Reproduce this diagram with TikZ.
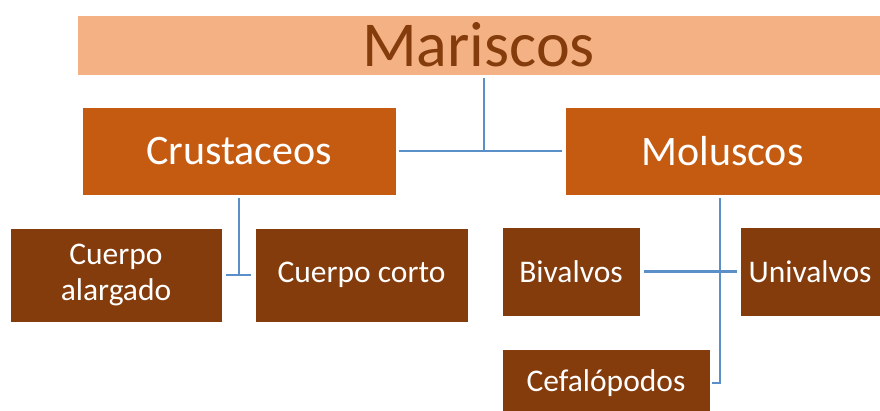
\documentclass[tikz,border=0pt]{standalone}
\usepackage{fontspec}
\setmainfont{Carlito}
\definecolor{lt}{HTML}{F4B183}
\definecolor{md}{HTML}{C55A11}
\definecolor{dk}{HTML}{843C0C}
\definecolor{ln}{HTML}{5B8FC8}
\begin{document}
\begin{tikzpicture}[x=1pt,y=-1pt,
  box/.style={rectangle, draw=white, line width=0.6pt, inner sep=0pt, align=center, text=white},
  top/.style={box, fill=lt, text=dk, font=\fontsize{64}{70}\selectfont},
  mid/.style={box, fill=md, font=\fontsize{42}{48}\selectfont},
  low/.style={box, fill=dk, font=\fontsize{31.5}{36}\selectfont},
  conn/.style={draw=ln, line width=2.8pt}]
\useasboundingbox (0,0) rectangle (880,411);
\begin{scope}
\clip (0,0) rectangle (880,411);
\node[top, minimum width=803pt, minimum height=60pt] (mar) at (478.5,45) {Mariscos};
\node[mid, minimum width=314pt, minimum height=88pt] (cru) at (239,151) {Crustaceos};
\node[mid, minimum width=315pt, minimum height=88pt] (mol) at (722.5,151) {Moluscos};
\node[low, minimum width=212pt, minimum height=94pt] (cal) at (116,275) {Cuerpo\\alargado};
\node[low, minimum width=213pt, minimum height=94pt] (cco) at (361.5,275) {Cuerpo corto};
\node[low, minimum width=138pt, minimum height=89pt] (biv) at (571,271.5) {Bivalvos};
\node[low, minimum width=140pt, minimum height=89pt] (uni) at (810,271.5) {Univalvos};
\node[low, minimum width=208pt, minimum height=68pt] (cef) at (606,383) {Cefalópodos};
\end{scope}
\coordinate (j1) at (484,152);
\coordinate (j2) at (239,275);
\coordinate (j3) at (720,272);
\coordinate (j4) at (720,383);
\draw[conn, shorten <=3pt] (mar.south -| j1) -- (j1);
\draw[conn, shorten <=3pt, shorten >=3pt] (cru.east) -- (mol.west);
\draw[conn, shorten <=3pt] (cru.south -| j2) -- (j2);
\draw[conn, shorten <=4pt, shorten >=4pt] (cal.east) -- (cco.west);
\draw[conn, shorten <=3pt] (mol.south -| j3) -- (j4) -- ([xshift=2pt]cef.east);
\draw[conn, shorten <=4pt, shorten >=3pt] (biv.east) -- (uni.west);
\end{tikzpicture}
\end{document}
